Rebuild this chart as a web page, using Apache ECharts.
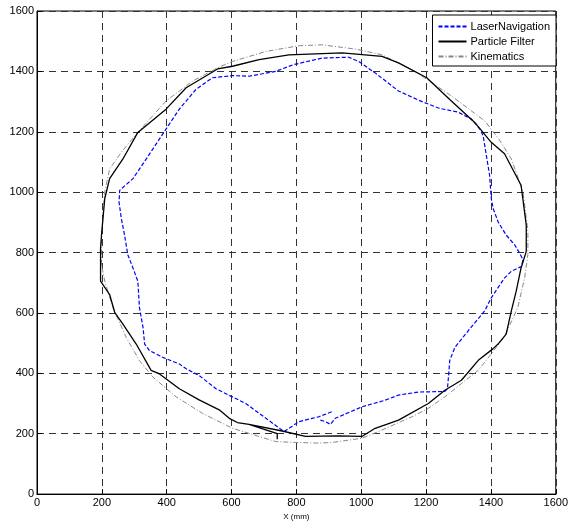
<!DOCTYPE html>
<html>
<head>
<meta charset="utf-8">
<script src="https://cdn.jsdelivr.net/npm/echarts@6/dist/echarts.min.js"></script>
<style>html,body{margin:0;padding:0;background:#fff}#c{width:571px;height:526px}</style>
</head>
<body>
<div id="c"></div>
<script>
var seriesNames = ['LaserNavigation', 'Particle Filter', 'Kinematics'];
var xTicks = [0, 200, 400, 600, 800, 1000, 1200, 1400, 1600];
var yTicks = [0, 200, 400, 600, 800, 1000, 1200, 1400, 1600];

var laserData = [[874,245],[890,240],[905,231],[920,251],[1002,289],[1074,311],[1115,328],[1176,338],[1258,340],[1266,349],[1270,400],[1273,443],[1289,486],[1330,541],[1381,607],[1401,650],[1442,716],[1463,738],[1494,754],[1499,776],[1488,799],[1473,826],[1447,858],[1422,902],[1407,946],[1401,979],[1396,1056],[1386,1121],[1376,1187],[1366,1209],[1340,1242],[1299,1265],[1240,1278],[1180,1303],[1115,1335],[1043,1395],[992,1433],[961,1447],[879,1444],[790,1422],[736,1400],[654,1384],[603,1386],[541,1379],[490,1340],[439,1275],[398,1209],[337,1110],[296,1045],[255,1006],[253,968],[260,913],[270,858],[280,793],[296,749],[311,705],[316,618],[327,552],[332,497],[347,475],[368,464],[388,453],[439,431],[460,415],[500,393],[552,349],[644,300],[706,251],[762,207],[808,240],[849,251],[869,256],[910,273]];

var particleData = [[741,182],[741,200],[654,231],[618,237],[593,251],[562,279],[500,312],[439,349],[378,398],[352,410],[306,497],[265,563],[240,601],[224,661],[196,705],[196,815],[199,858],[209,979],[224,1045],[265,1110],[311,1198],[398,1275],[460,1346],[557,1408],[603,1417],[685,1439],[777,1455],[941,1461],[1064,1450],[1115,1428],[1202,1379],[1273,1307],[1350,1231],[1401,1165],[1442,1127],[1493,1023],[1509,891],[1509,804],[1493,749],[1478,672],[1463,607],[1447,530],[1422,497],[1406,481],[1361,443],[1309,377],[1258,344],[1207,300],[1115,245],[1043,218],[1002,191],[930,193],[828,191],[756,209],[654,231]];

var kinematicsData = [[199,760],[199,858],[209,1001],[224,1077],[262,1135],[311,1198],[398,1302],[480,1368],[557,1412],[603,1433],[706,1466],[808,1485],[879,1488],[982,1474],[1064,1455],[1166,1400],[1279,1318],[1381,1236],[1425,1175],[1463,1110],[1499,1001],[1514,870],[1514,793],[1504,716],[1483,618],[1442,522],[1401,464],[1361,410],[1309,366],[1258,322],[1207,284],[1156,256],[1053,207],[1002,185],[910,171],[869,169],[798,171],[736,174],[603,218],[511,267],[429,322],[357,388],[316,442],[275,519],[234,618],[209,705],[199,760]];

var font = 'Liberation Sans, Arial, sans-serif';
var chart = echarts.init(document.getElementById('c'), null, {renderer: 'canvas'});
var gridLine = {show: true, lineStyle: {color: '#333', width: 1, type: [7, 5]}};
var plainLabel = function (v) { return String(v); };
chart.setOption({
  animation: false,
  backgroundColor: '#fff',
  grid: {left: 37, right: 13, top: 11, bottom: 28, show: true, borderColor: '#000', borderWidth: 1, backgroundColor: 'transparent'},
  legend: {
    data: seriesNames,
    orient: 'vertical',
    right: 15,
    top: 15,
    backgroundColor: '#fff',
    borderColor: '#000',
    borderWidth: 1,
    padding: [6, 6, 4, 5],
    itemGap: 4,
    itemWidth: 28,
    itemHeight: 11,
    itemStyle: {opacity: 0},
    textStyle: {fontFamily: font, fontSize: 11, color: '#000', padding: [0, 0, 0, -1]}
  },
  xAxis: {
    type: 'value', min: xTicks[0], max: xTicks[xTicks.length - 1], interval: 200,
    name: 'X (mm)', nameLocation: 'middle', nameGap: 15,
    nameTextStyle: {fontFamily: font, fontSize: 8, color: '#000'},
    axisLine: {show: true, lineStyle: {color: '#000', width: 1}},
    axisTick: {show: true, inside: true, length: 5, lineStyle: {color: '#000'}},
    axisLabel: {fontFamily: font, fontSize: 11, color: '#000', margin: 3, formatter: plainLabel},
    splitLine: gridLine
  },
  yAxis: {
    type: 'value', min: yTicks[0], max: yTicks[yTicks.length - 1], interval: 200,
    axisLine: {show: true, lineStyle: {color: '#000', width: 1}},
    axisTick: {show: true, inside: true, length: 5, lineStyle: {color: '#000'}},
    axisLabel: {fontFamily: font, fontSize: 11, color: '#000', margin: 3, formatter: plainLabel},
    splitLine: gridLine
  },
  series: [
    {name: seriesNames[0], type: 'line', data: laserData, symbol: 'none', smooth: false,
     lineStyle: {color: '#0000ff', width: 1.2, type: [4, 2]}, itemStyle: {color: '#0000ff'}, z: 4},
    {name: seriesNames[1], type: 'line', data: particleData, symbol: 'none', smooth: false,
     lineStyle: {color: '#000', width: 1.3, type: 'solid'}, itemStyle: {color: '#000'}, z: 5},
    {name: seriesNames[2], type: 'line', data: kinematicsData, symbol: 'none', smooth: false,
     lineStyle: {color: '#888', width: 1, type: [5, 2, 1, 2]}, itemStyle: {color: '#888'}, z: 3}
  ]
});
</script>
</body>
</html>
